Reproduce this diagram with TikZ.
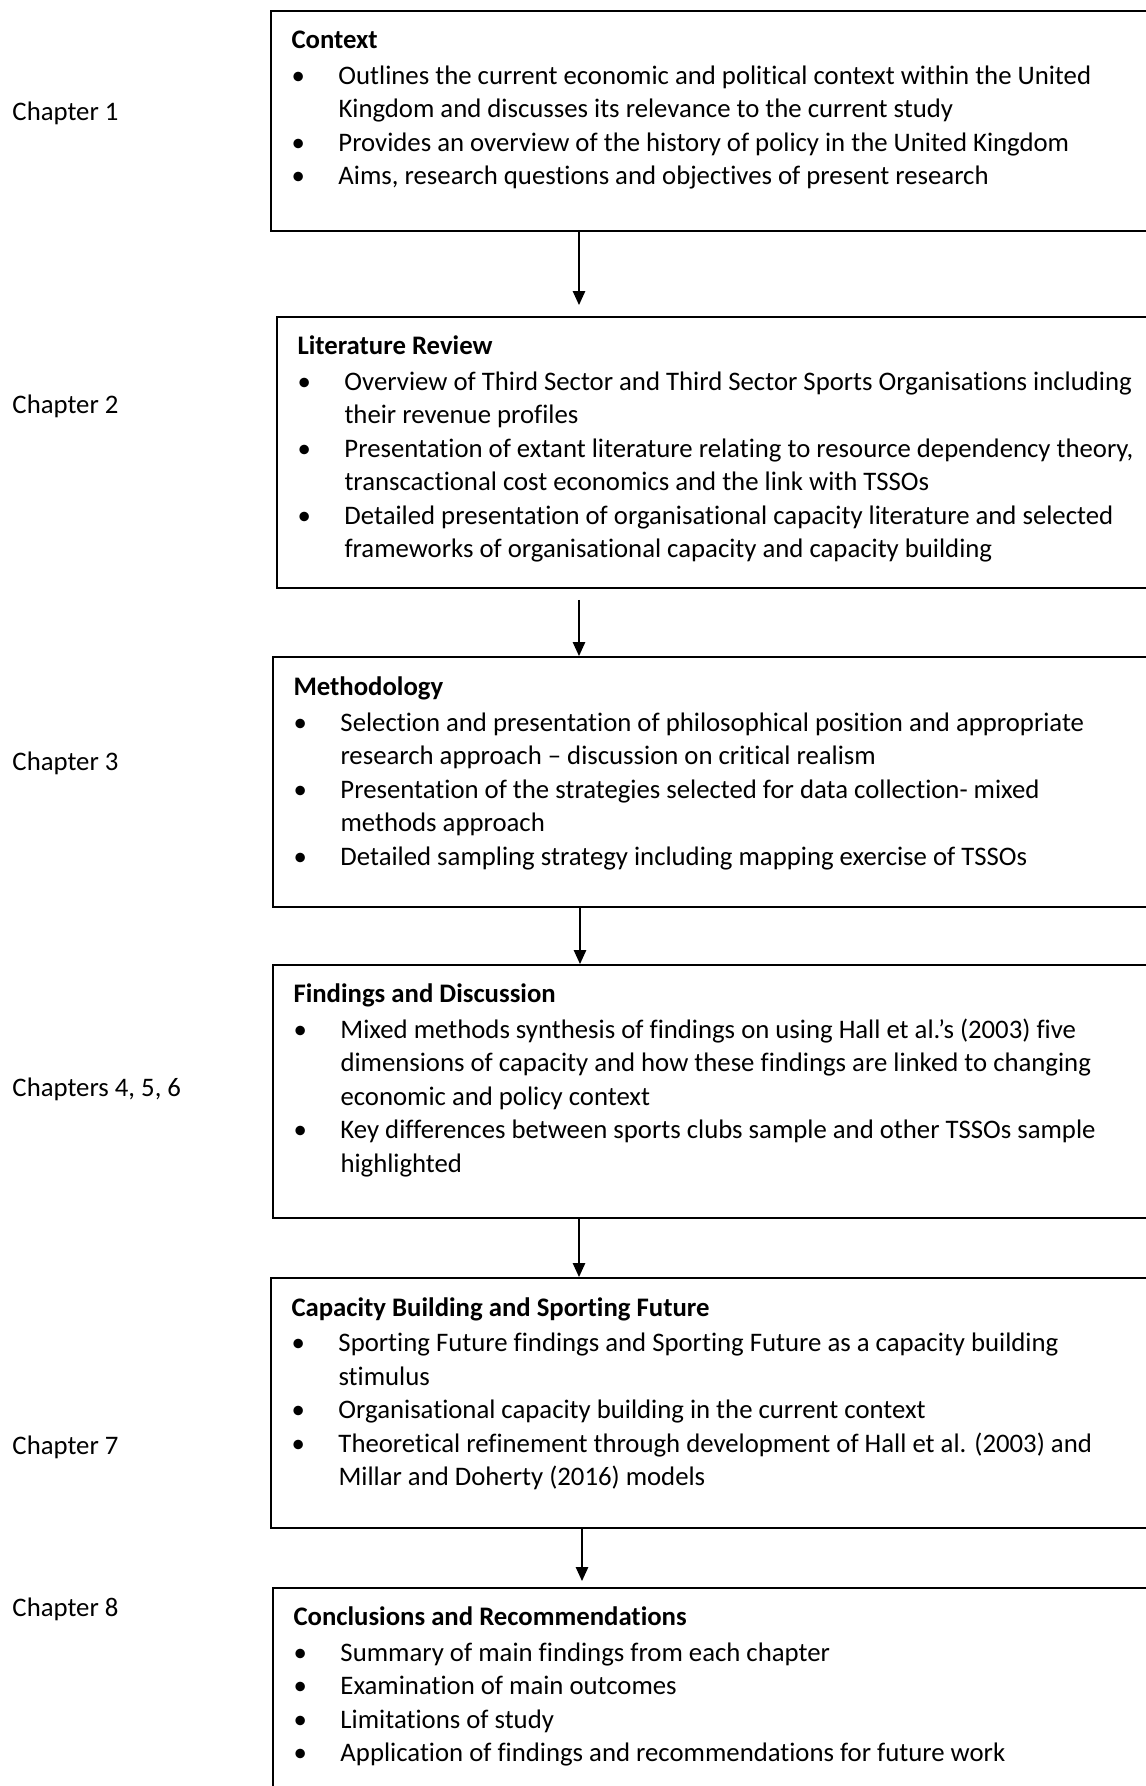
\documentclass[tikz,border=0pt]{standalone}
\usepackage{fontspec}
\setmainfont{Carlito}[Ligatures={TeX,NoCommon}]
\usepackage{tikz}
\usetikzlibrary{arrows.meta,positioning}
\newcommand{\bl}{\makebox[18.8pt][l]{\textbullet}}
\newcommand{\cl}{\hspace*{18.8pt}}
\newcommand{\hd}[1]{\rule{0pt}{9pt}\textbf{#1}\\[0.8pt]}

\begin{document}
\begin{tikzpicture}[x=0.4pt, y=-0.4pt, font=\fontsize{10.7}{13.4}\selectfont, >={Triangle[length=5.6pt,width=5pt]},
  frame/.style={draw, line width=0.75pt, anchor=north west, inner sep=0pt, minimum width=370pt},
  txt/.style={inner sep=0pt, align=left},
  chap/.style={anchor=base west, inner sep=0pt},
  arr/.style={->, line width=0.5pt}]
\useasboundingbox (0,0) rectangle (1146,1786);
\node[frame, minimum height=88pt] (ctx) at (270,10) {};
\node[frame, minimum height=108.4pt] (lit) at (276,316) {};
\node[frame, minimum height=100pt] (meth) at (272,656) {};
\node[frame, minimum height=101.2pt] (find) at (272,964) {};
\node[frame, minimum height=100pt] (cap) at (270,1277) {};
\node[frame, minimum height=86pt] (conc) at (272,1587) {};
\node[txt, below right=6.2pt and 8.4pt of ctx.north west] (ctxtxt) {\hd{Context}
\bl Outlines the current economic and political context within the United\\
\cl Kingdom and discusses its relevance to the current study\\
\bl Provides an overview of the history of policy in the United Kingdom\\
\bl Aims, research questions and objectives of present research};
\node[txt, below right=6.2pt and 8.4pt of lit.north west] (littxt) {\hd{Literature Review}
\bl Overview of Third Sector and Third Sector Sports Organisations including\\
\cl their revenue profiles\\
\bl Presentation of extant literature relating to resource dependency theory,\\
\cl transcactional cost economics and the link with TSSOs\\
\bl Detailed presentation of organisational capacity literature and selected\\
\cl frameworks of organisational capacity and capacity building};
\node[txt, below right=6.6pt and 8.4pt of meth.north west] (methtxt) {\hd{Methodology}
\bl Selection and presentation of philosophical position and appropriate\\
\cl research approach -- discussion on critical realism\\
\bl Presentation of the strategies selected for data collection- mixed\\
\cl methods approach\\
\bl Detailed sampling strategy including mapping exercise of TSSOs};
\node[txt, below right=6.2pt and 8.4pt of find.north west] (findtxt) {\hd{Findings and Discussion}
\bl Mixed methods synthesis of findings on using Hall et al.’s (2003) five\\
\cl dimensions of capacity and how these findings are linked to changing\\
\cl economic and policy context\\
\bl Key differences between sports clubs sample and other TSSOs sample\\
\cl highlighted};
\node[txt, below right=6.4pt and 8.4pt of cap.north west] (captxt) {\hd{Capacity Building and Sporting Future}
\bl Sporting Future findings and Sporting Future as a capacity building\\
\cl stimulus\\
\bl Organisational capacity building in the current context\\
\bl Theoretical refinement through development of Hall et al. (2003) and\\
\cl Millar and Doherty (2016) models};
\node[txt, below right=6.2pt and 8.4pt of conc.north west] (conctxt) {\hd{Conclusions and Recommendations}
\bl Summary of main findings from each chapter\\
\bl Examination of main outcomes\\
\bl Limitations of study\\
\bl Application of findings and recommendations for future work};
\node[chap] (ch1) at (12,120) {Chapter 1};
\node[chap] (ch2) at (12,413) {Chapter 2};
\node[chap] (ch3) at (12,770) {Chapter 3};
\node[chap] (ch456) at (12,1096) {Chapters 4, 5, 6};
\node[chap] (ch7) at (12,1454) {Chapter 7};
\node[chap] (ch8) at (12,1616) {Chapter 8};
\draw[arr] (ctx.south -| 579,0) -- ([yshift=4.4pt]lit.north -| 579,0);
\draw[arr] ([yshift=-4.4pt]lit.south -| 579,0) -- (meth.north -| 579,0);
\draw[arr] (meth.south -| 580,0) -- (find.north -| 580,0);
\draw[arr] (find.south -| 579,0) -- (cap.north -| 579,0);
\draw[arr] (cap.south -| 582,0) -- ([yshift=2.4pt]conc.north -| 582,0);
\end{tikzpicture}
\end{document}
